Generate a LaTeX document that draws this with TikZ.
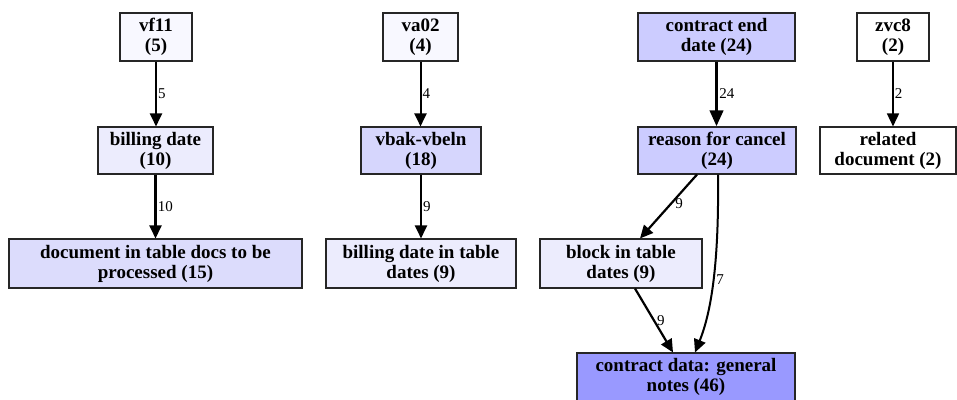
\documentclass[tikz,border=0pt]{standalone}
\usepackage{fontspec}
\setmainfont{Liberation Serif}
\usetikzlibrary{arrows.meta}
\definecolor{fA}{HTML}{F8F8FF}
\definecolor{fB}{HTML}{ECECFD}
\definecolor{fC}{HTML}{DCDCFC}
\definecolor{fD}{HTML}{D6D6FD}
\definecolor{fE}{HTML}{CCCCFF}
\definecolor{fF}{HTML}{9999FF}
\tikzset{
  box/.style={draw=black!85, line width=1.1pt, rectangle, inner sep=0pt, align=center,
    font=\fontsize{19}{20}\selectfont\bfseries},
  edge/.style={draw=black, -{Triangle[length=13pt,width=12pt]}},
  bigedge/.style={draw=black, -{Triangle[length=16pt,width=13pt]}},
  elabel/.style={font=\fontsize{15}{16}\selectfont, inner sep=1pt, anchor=west}
}
\begin{document}
\begin{tikzpicture}[x=1pt,y=-1pt]
\useasboundingbox (0,0) rectangle (957,399);
% column 1
\node[box, fill=fA, minimum width=72pt, minimum height=48pt] (vf11) at (156,37) {vf11\\(5)};
\node[box, fill=fB, minimum width=115pt, minimum height=47pt] (bd) at (155.5,150.5) {billing date\\(10)};
\node[box, fill=fC, minimum width=293pt, minimum height=49pt] (doc) at (155.5,263.5) {document in table docs to be\\processed (15)};
% column 2
\node[box, fill=fA, minimum width=75pt, minimum height=48pt] (va02) at (420.5,37) {va02\\(4)};
\node[box, fill=fD, minimum width=120pt, minimum height=47pt] (vbak) at (421,150.5) {vbak-vbeln\\(18)};
\node[box, fill=fB, minimum width=190pt, minimum height=49pt] (bdt) at (421,263.5) {billing date in table\\dates (9)};
% column 3
\node[box, fill=fE, minimum width=157pt, minimum height=48pt] (ced) at (716.5,37) {contract end\\date (24)};
\node[box, fill=fE, minimum width=158pt, minimum height=47pt] (rfc) at (717,150.5) {reason for cancel\\(24)};
\node[box, fill=fB, minimum width=162pt, minimum height=49pt] (blk) at (621,263.5) {block in table\\dates (9)};
\node[box, fill=fF, minimum width=218pt, minimum height=48pt] (cdn) at (686,377) {contract data: general\\notes (46)};
% column 4
\node[box, fill=white, minimum width=72pt, minimum height=48pt] (zvc8) at (893,37) {zvc8\\(2)};
\node[box, fill=white, minimum width=136pt, minimum height=47pt] (rel) at (888,150.5) {related\\document (2)};
% edges
\draw[edge, line width=2pt] (vf11.south) -- node[elabel]{5} (vf11.south |- bd.north);
\draw[edge, line width=2.5pt] (bd.south) -- node[elabel]{10} (bd.south |- doc.north);
\draw[edge, line width=2pt] (va02.south) -- node[elabel]{4} (va02.south |- vbak.north);
\draw[edge, line width=2.2pt] (vbak.south) -- node[elabel]{9} (vbak.south |- bdt.north);
\draw[bigedge, line width=3.6pt] (ced.south) -- node[elabel]{24} (ced.south |- rfc.north);
\draw[edge, line width=1.6pt] (zvc8.south) -- node[elabel]{2} (zvc8.south |- rel.north);
\draw[edge, line width=2.2pt] ([xshift=-20pt]rfc.south) -- node[elabel, pos=0.45, xshift=2pt]{9} ([xshift=19pt]blk.north);
\draw[edge, line width=2pt] ([xshift=1pt]rfc.south) .. controls (719,260) and (712,310) .. node[elabel, pos=0.5, xshift=1pt]{7} ([xshift=9pt]cdn.north);
\draw[edge, line width=2.2pt] ([xshift=14pt]blk.south) -- node[elabel, pos=0.5, xshift=1pt]{9} ([xshift=-13pt]cdn.north);
\end{tikzpicture}
\end{document}
